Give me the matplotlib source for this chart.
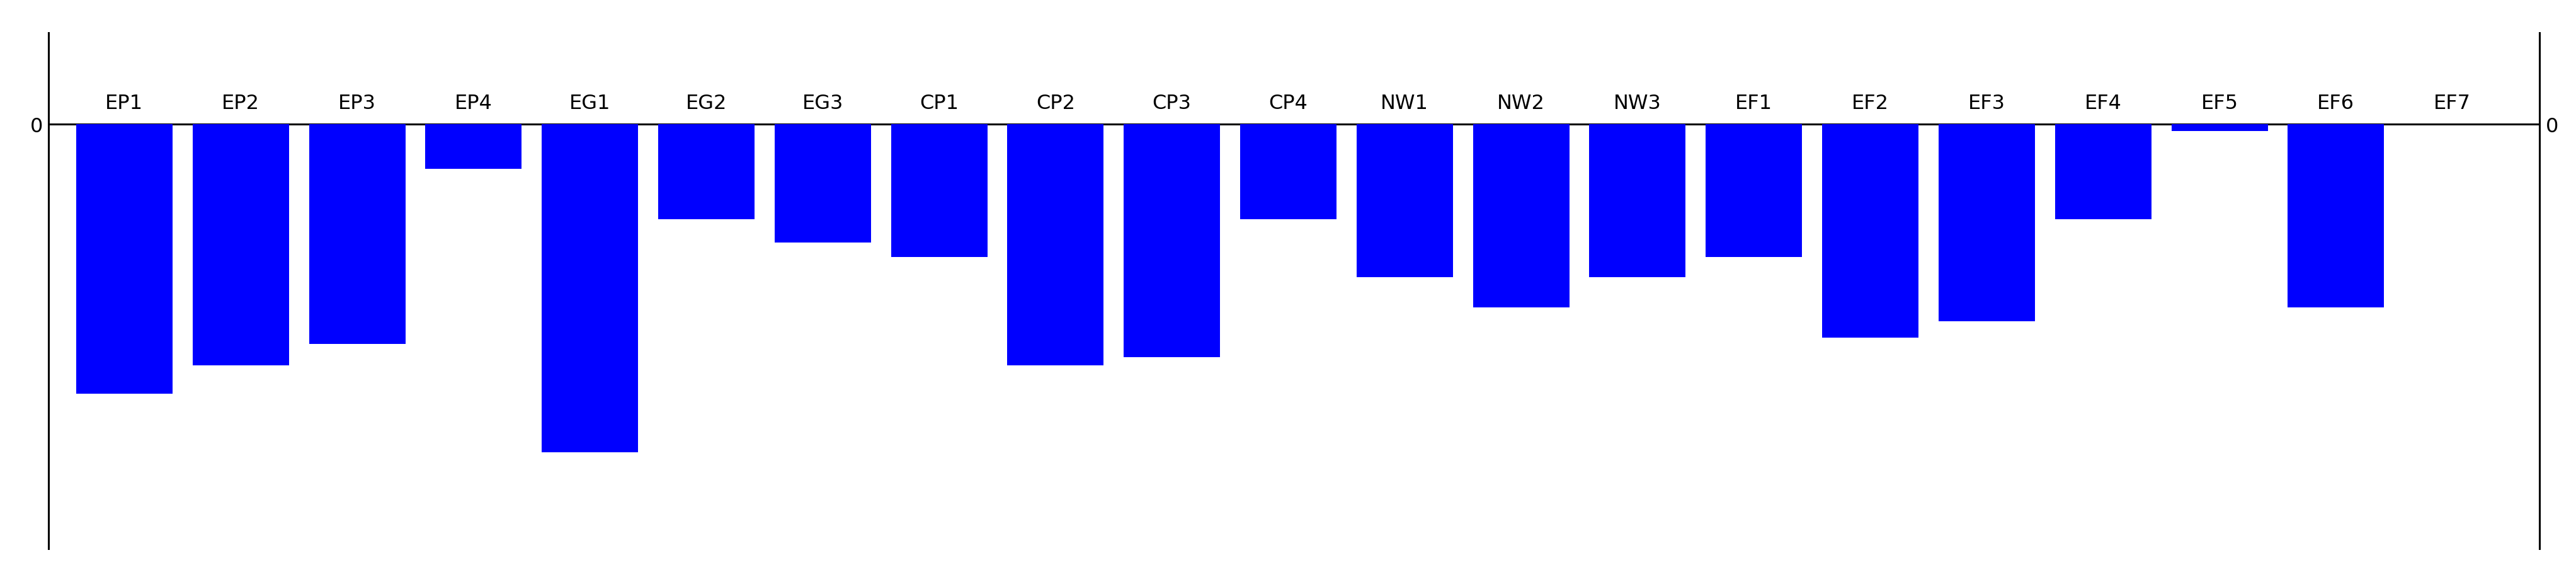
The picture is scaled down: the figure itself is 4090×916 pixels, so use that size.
import matplotlib
matplotlib.use("Agg")
import matplotlib.pyplot as plt
from matplotlib import font_manager

# categories and bar values (arbitrary units)
categories = ["EP1", "EP2", "EP3", "EP4", "EG1", "EG2", "EG3",
              "CP1", "CP2", "CP3", "CP4", "NW1", "NW2", "NW3",
              "EF1", "EF2", "EF3", "EF4", "EF5", "EF6", "EF7"]
values = [-42.8, -38.3, -34.9, -7.1, -52.1, -15.1, -18.8,
          -21.1, -38.3, -37.0, -15.1, -24.3, -29.1, -24.3,
          -21.1, -33.9, -31.3, -15.1, -1.1, -29.1, 0.0]
ytick_labels = ["0"]

# pick a narrow font if there is one
names = set(f.name for f in font_manager.fontManager.ttflist)
if "Liberation Sans Narrow" in names:
    fam = ["Liberation Sans Narrow", "DejaVu Sans"]
    fsize = 24
else:
    fam = ["DejaVu Sans"]
    fsize = 23
plt.rcParams["font.family"] = fam

fig = plt.figure(figsize=(40.9099, 9.1699), dpi=100)
ax = fig.add_axes([0.01894, 0.04853, 0.98551 - 0.01894, 0.94199 - 0.04853])

x = list(range(len(categories)))
ax.axhline(0, color="black", linewidth=2.2, zorder=1)
ax.bar(x, values, width=0.828, color="#0000ff", zorder=2)

for i, name in enumerate(categories):
    ax.annotate(name, (i, 0), xytext=(0, 17.6), textcoords="offset points",
                ha="center", va="baseline", fontsize=fsize, color="black")

ax.set_xlim(-0.649, 20.747)
ax.set_ylim(-67.5, 14.45)

ax.set_xticks([])
ax.set_yticks([0])
ax.set_yticklabels(ytick_labels)
ax.tick_params(axis="y", length=0, labelsize=fsize, pad=7,
               left=True, right=True, labelleft=True, labelright=True)

for s in ["top", "bottom"]:
    ax.spines[s].set_visible(False)
for s in ["left", "right"]:
    ax.spines[s].set_linewidth(2.2)
    ax.spines[s].set_color("black")

fig.savefig("out.png", dpi=100, facecolor="white")
